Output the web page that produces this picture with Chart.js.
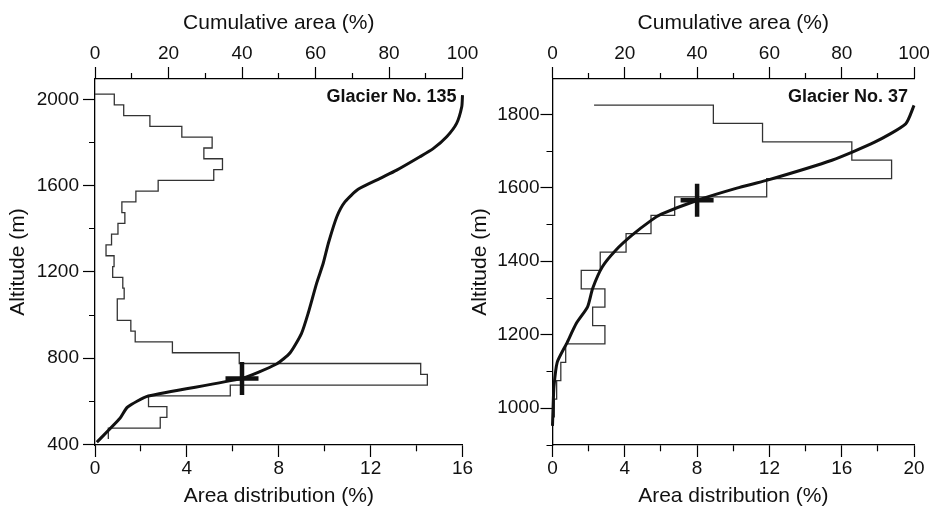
<!DOCTYPE html>
<html>
<head>
<meta charset="utf-8">
<script src="https://cdn.jsdelivr.net/npm/chart.js@4.4.0/dist/chart.umd.min.js"></script>
<style>
  body { margin: 0; background: #fff; }
  canvas { position: absolute; top: 0; }
  #left { left: 0; }
  #right { left: 465px; }
</style>
</head>
<body>
<canvas id="left" width="500" height="509"></canvas>
<canvas id="right" width="470" height="509"></canvas>
<script>
// 50 m altitude bands, centre of each band, from the top down
var binWidth = 50;

// Glacier No. 135
var bands135 = [2000,1950,1900,1850,1800,1750,1700,1650,1600,1550,1500,1450,1400,1350,1300,1250,
                1200,1150,1100,1050,1000,950,900,850,800,750,700,650,600,550,500,450];
var area135  = [0.84,1.25,2.39,3.78,5.10,4.74,5.55,5.17,2.75,1.78,1.17,1.30,1.00,0.72,0.48,0.83,
                0.77,1.21,1.27,0.97,0.97,1.56,1.75,3.37,6.28,14.18,14.47,5.89,2.33,3.13,2.84,0.58];
var start135 = 0;
var cumAlt135 = [410,521,572,624,706,773,825,915,1008,1147,1240,1333,1456,1525,1583,1634,1672,1734,1773,1827,1889,1966,2020];
var cumPct135 = [0.5,6.8,8.8,14.5,39.9,49.4,53.1,56.2,58.0,60.3,62.1,63.5,65.8,68.0,71.6,77.6,82.1,88.4,92.1,95.7,98.4,99.8,100];
var markArea135 = [6.4];
var markAlt135 = [706];

// Glacier No. 37
var bands37 = [1800,1750,1700,1650,1600,1550,1500,1450,1400,1350,1300,1250,1200,1150,1100,1050,1000];
var area37  = [8.90,11.62,16.56,18.76,11.85,6.76,5.45,4.07,2.64,1.59,2.90,2.22,2.90,0.73,0.46,0.23,0.10];
var start37 = 2.3;
var cumAlt37 = [952,1000,1058,1125,1176,1231,1276,1326,1385,1430,1471,1512,1528,1566,1599,1620,1675,1724,1774,1824];
var cumPct37 = [0.0,0.15,0.4,1.3,3.9,6.6,9.7,11.1,13.8,17.5,22.0,27.4,30.1,40.1,51.0,59.2,77.3,89.1,97.7,100];
var markArea37 = [8.0];
var markAlt37 = [1566];

// tick marks and labelled ticks
var cumTicks = [0,10,20,30,40,50,60,70,80,90,100];
var cumLabels = [0,20,40,60,80,100];
var areaTicks135 = [0,2,4,6,8,10,12,14,16];
var areaLabels135 = [0,4,8,12,16];
var areaTicks37 = [0,2,4,6,8,10,12,14,16,18,20];
var areaLabels37 = [0,4,8,12,16,20];
var altTicks135 = [400,600,800,1000,1200,1400,1600,1800,2000];
var altLabels135 = [400,800,1200,1600,2000];
var altTicks37 = [900,1000,1100,1200,1300,1400,1500,1600,1700,1800];
var altLabels37 = [1000,1200,1400,1600,1800];

Chart.defaults.font.family = '"Liberation Sans", Arial, sans-serif';
Chart.defaults.color = '#111';

function outline(bands, values, start) {
  var h = binWidth / 2;
  var pts = [{x: start, y: bands[0] + h}];
  for (var i = 0; i < bands.length; i++) {
    pts.push({x: values[i], y: bands[i] + h});
    pts.push({x: values[i], y: bands[i] - h});
  }
  return pts;
}

function pairs(xs, ys) {
  return xs.map(function (v, i) { return {x: v, y: ys[i]}; });
}

function scale(o) {
  var horiz = o.position === 'top' || o.position === 'bottom';
  var isMajor = function (v) { return o.labels.indexOf(v) >= 0; };
  return {
    type: 'linear', position: o.position, min: o.min, max: o.max,
    grid: {
      drawOnChartArea: false, drawTicks: true, tickLength: 12, tickWidth: 1.2, tickColor: '#000',
      tickBorderDash: function (c) {
        if (!c.tick || isMajor(c.tick.value)) return [];
        return o.position === 'bottom' ? [6, 40] : [0, 6, 6, 40];
      }
    },
    border: { display: true, color: '#000', width: 1.3 },
    ticks: {
      autoSkip: false, maxRotation: 0, padding: o.pad, font: { size: 19 }, color: '#111',
      callback: function (v) { return isMajor(v) ? String(v) : ''; }
    },
    title: { display: true, text: o.title, font: { size: 21 }, color: '#111', padding: o.titlePad },
    afterBuildTicks: function (s) {
      s.ticks = o.ticks.map(function (v) { return {value: v}; });
    },
    afterFit: function (s) {
      if (horiz) { s.height = o.size; s.paddingLeft = 0; s.paddingRight = 0; }
      else { s.width = o.size; s.paddingTop = 0; s.paddingBottom = 0; }
    }
  };
}

function tag(text) {
  return {
    id: 'tag',
    afterDraw: function (ch) {
      var a = ch.chartArea, c = ch.ctx;
      c.save();
      c.font = 'bold 18px "Liberation Sans", Arial, sans-serif';
      c.fillStyle = '#111';
      c.textAlign = 'right';
      c.fillText(text, a.right - 6, a.top + 23);
      c.restore();
    }
  };
}

function panel(id, p) {
  new Chart(document.getElementById(id).getContext('2d'), {
    type: 'scatter',
    data: {
      datasets: [
        { data: pairs(p.markArea, p.markAlt), xAxisID: 'x', pointStyle: 'cross', pointRadius: 16.5,
          pointBorderWidth: 4.5, borderColor: '#111', showLine: false, clip: false },
        { data: pairs(p.cumPct, p.cumAlt), xAxisID: 'x2', showLine: true, borderColor: '#111',
          borderWidth: 3, pointRadius: 0, tension: 0.2, clip: false },
        { data: outline(p.bands, p.area, p.start), xAxisID: 'x', showLine: true, borderColor: '#333',
          borderWidth: 1.3, pointRadius: 0, tension: 0 }
      ]
    },
    options: {
      responsive: false, animation: false, devicePixelRatio: 1,
      layout: { padding: { left: 0, top: 0, bottom: 0, right: p.padRight } },
      plugins: { legend: { display: false }, tooltip: { enabled: false } },
      scales: {
        x: scale({ position: 'bottom', min: 0, max: p.areaMax, ticks: p.areaTicks, labels: p.areaLabels,
                   pad: 0, size: 64, title: 'Area distribution (%)', titlePad: { top: 0, bottom: 0 } }),
        x2: scale({ position: 'top', min: 0, max: 100, ticks: cumTicks, labels: cumLabels,
                    pad: 1.6, size: 79, title: 'Cumulative area (%)', titlePad: { top: 10.4, bottom: 0 } }),
        y: scale({ position: 'left', min: p.altMin, max: p.altMax, ticks: p.altTicks, labels: p.altLabels,
                   pad: p.yPad, size: p.yWidth, title: 'Altitude (m)', titlePad: { top: p.yTitlePad, bottom: 0 } })
      }
    },
    plugins: [tag(p.name)]
  });
}

panel('left', {
  name: 'Glacier No. 135', bands: bands135, area: area135, start: start135,
  cumAlt: cumAlt135, cumPct: cumPct135, markArea: markArea135, markAlt: markAlt135,
  areaMax: 16, areaTicks: areaTicks135, areaLabels: areaLabels135,
  altMin: 397, altMax: 2095, altTicks: altTicks135, altLabels: altLabels135,
  yPad: 4, yWidth: 95, yTitlePad: 5.7, padRight: 37.5
});

panel('right', {
  name: 'Glacier No. 37', bands: bands37, area: area37, start: start37,
  cumAlt: cumAlt37, cumPct: cumPct37, markArea: markArea37, markAlt: markAlt37,
  areaMax: 20, areaTicks: areaTicks37, areaLabels: areaLabels37,
  altMin: 900, altMax: 1896, altTicks: altTicks37, altLabels: altLabels37,
  yPad: 1, yWidth: 87.5, yTitlePad: 2.4, padRight: 15
});
</script>
</body>
</html>
